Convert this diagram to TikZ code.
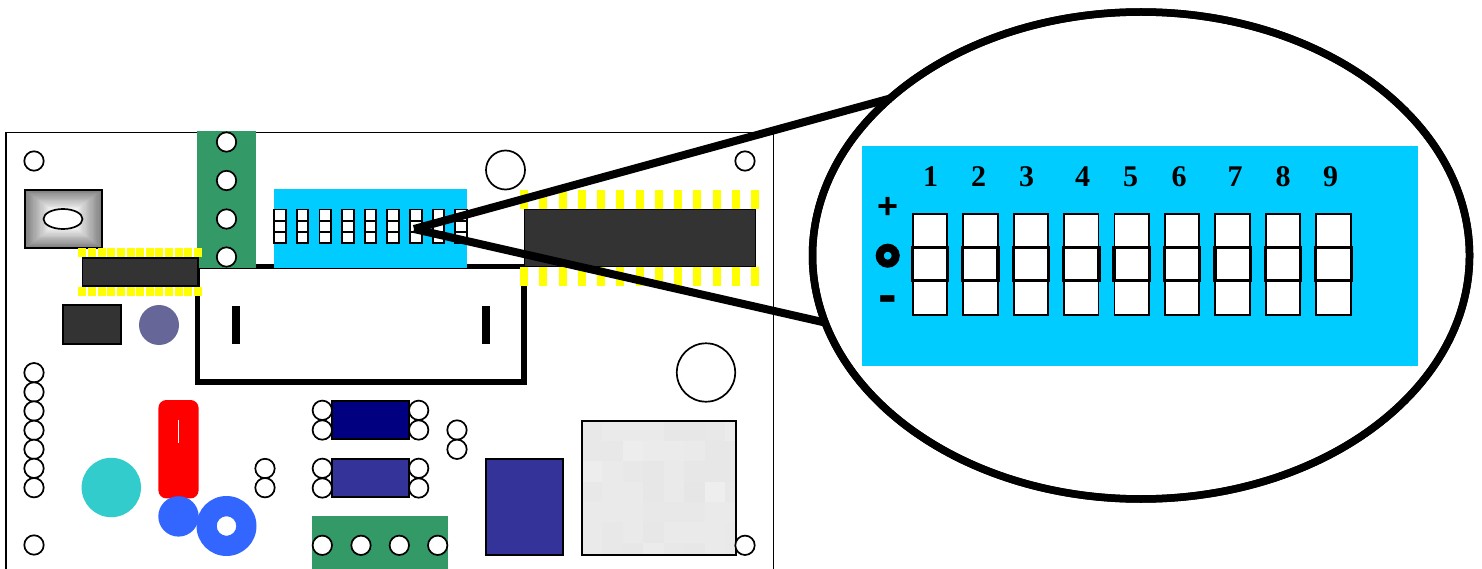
\documentclass[tikz,border=0pt]{standalone}
\usepackage{fontspec}
\setmainfont{Liberation Serif}
\newfontfamily\sansfam{Liberation Sans}
\usetikzlibrary{shapes.geometric}
\definecolor{ic}{HTML}{333333}
\definecolor{pad}{HTML}{FFFF00}
\definecolor{sky}{HTML}{00CCFF}
\definecolor{term}{HTML}{339966}
\definecolor{navy2}{HTML}{000080}
\definecolor{indigo2}{HTML}{333399}
\definecolor{slate}{HTML}{666699}
\definecolor{teal2}{HTML}{33CCCC}
\definecolor{blue2}{HTML}{3366FF}
\tikzset{
  hole/.style={draw=black,fill=white,line width=1.7pt},
  part/.style={draw=black,line width=1.9pt},
  num/.style={font=\fontsize{30}{30}\selectfont\bfseries,inner sep=0pt,anchor=center},
  swcell/.style={draw=black,fill=white,line width=1.9pt},
  zoomline/.style={line width=8pt,draw=black,shorten >=-1pt},
  lens/.style={ellipse,draw=black,line width=7.5pt,outer sep=0pt,minimum width=657pt,minimum height=487pt,inner sep=0pt}
}
\begin{document}
\begin{tikzpicture}[x=1pt,y=-1pt]
\useasboundingbox (0,0) rectangle (1482,569);
\clip (0,0) rectangle (1482,569);
\fill[white] (0,0) rectangle (1482,569);
% board
\draw[line width=1.9pt,fill=white] (5.8,132.5) rectangle (773.5,600);
% corner and loose holes
\foreach \x/\y/\r in {34/161/9.7, 745/161/9.7, 505.5/170/19.5, 706/372.5/29.2, 34/545/9.7,
  34/372.7/9.7, 34/392/9.7, 34/411/9.7, 34/430.3/9.7, 34/449.3/9.7, 34/468.3/9.7, 34/487.7/9.7,
  265/468.5/9.7, 265/487.7/9.7, 457/430/9.7, 457/449.3/9.7}
  \path[hole] (\x,\y) circle[radius=\r];
% big white box
\draw[line width=5.5pt,fill=white] (197.7,266.7) rectangle (523.8,382);
\fill[black] (232.3,305.5) rectangle (240,343.5);
\fill[black] (482,305.5) rectangle (489.7,343.5);
% vertical terminal
\fill[term] (197,131) rectangle (256,268.3);
\foreach \y in {142,180.5,219,257} \path[hole] (226.5,\y) circle[radius=9.7];
% toggle with rectangular gradient
\foreach \i in {0,...,24}{
  \pgfmathsetmacro{\t}{\i/24}
  \pgfmathsetmacro{\c}{50*(1-\t)}
  \fill[black!\c!white] (25+28*\t,190+21*\t) rectangle (102-28*\t,248-21*\t);
}
\draw[part] (25,190) rectangle (102,248);
\path[hole] (63,219) ellipse[x radius=19.5,y radius=10];
% small chip
\draw[line width=1.5pt,fill=ic] (82.3,257.8) rectangle (198,286);
\foreach \k in {0,...,12}{
  \fill[pad] ({78.4+9.62*\k},247.8) rectangle ++(8,9.5);
  \fill[pad] ({78.4+9.62*\k},286.5) rectangle ++(8,9.6);
}
\draw[part,fill=ic] (63,305) rectangle (121,344);
\fill[slate] (159,325) circle[radius=20];
% DIP switch on the board
\fill[sky] (273.5,189.3) rectangle (467.3,267.8);
\foreach \k in {0,...,8}{
  \pgfmathsetmacro{\xa}{274.2+22.63*\k}
  \draw[swcell] (\xa,209.5) rectangle ++(11.6,11.2);
  \draw[swcell] (\xa,220.7) rectangle ++(11.6,11.2);
  \draw[swcell] (\xa,231.9) rectangle ++(11.6,11.2);
}
% big chip
\draw[line width=1pt,fill=ic] (524,209.3) rectangle (755,266.7);
\foreach \k in {0,...,12}{
  \fill[pad] ({520+19.25*\k},190) rectangle ++(8,19);
  \fill[pad] ({520+19.25*\k},267) rectangle ++(8,18.7);
}
% red part, capacitors
\fill[teal2] (111.3,487.5) circle[radius=29.7];
\fill[red,rounded corners=8pt] (158.4,400) rectangle (198.6,498.4);
\draw[white,line width=1.3pt] (178.5,419.5) -- (178.5,443.3);
\fill[blue2] (178.5,516.4) circle[radius=20.2];
\fill[blue2,even odd rule] (226.5,526) circle[radius=30] (226.5,526) circle[radius=9.8];
% resistors with holes
\foreach \y in {410.3,430,468.3,488}{
  \path[hole] (322.3,\y) circle[radius=9.7];
  \path[hole] (418.7,\y) circle[radius=9.7];
}
\draw[part,fill=navy2] (331.7,400.9) rectangle (409.3,439.3);
\draw[part,fill=indigo2] (331.7,459.2) rectangle (409.3,497.4);
% bottom terminal
\fill[term] (312,515.7) rectangle (448.3,600);
\foreach \x in {322.3,361,399.3,437.7} \path[hole] (\x,545.3) circle[radius=9.7];
% relay
\draw[line width=2pt,fill=indigo2] (485.9,459.2) rectangle (562.7,554.6);
% mosaic block
\begin{scope}
\clip (581.7,420.7) rectangle (735.7,555);
\foreach \rowvals [count=\j from 0] in {
  {232,236,236,236,231,231,232,238,234},
  {232,232,240,238,238,236,231,231,234},
  {240,236,232,231,235,231,231,231,238},
  {232,235,236,231,236,229,242,232,234},
  {235,235,235,233,233,233,235,235,234},
  {235,232,235,231,235,235,235,234,234},
  {235,232,231,238,232,231,235,234,234}}{
  \foreach \v [count=\i from 0] in \rowvals{
    \pgfmathtruncatemacro{\w}{round(233+0.6*(\v-234))}
    \fill[fill={rgb,255:red,\w;green,\w;blue,\w}] ({581.7+20.5*\i},{420.7+20.33*\j}) rectangle ++(20.8,20.6);
  }
}
\end{scope}
\draw[line width=1.9pt] (581.7,420.7) rectangle (735.7,555);
\path[hole] (745,545.3) circle[radius=9.7];
% zoom callout
\coordinate (tip) at (414,229);
\node[lens,fill=white] (zoomlens) at (1141,255.5) {};
\draw[zoomline] (tip) -- (zoomlens.148.6);
\draw[zoomline] (tip) -- (zoomlens.192.3);
\node[lens] (zoomrim) at (1141,255.5) {};
\fill[sky] (861.7,146) rectangle (1418,366);
\foreach \k in {0,...,8}{
  \pgfmathsetmacro{\xa}{912.7+50.45*\k}
  \draw[swcell] (\xa,214) rectangle ++(34.4,100.8);
  \draw[black,line width=3.2pt,fill=white] (\xa-0.5,247.5) rectangle ++(35.4,33);
}
\foreach \n/\x in {1/930.5,2/978.5,3/1026.5,4/1082.5,5/1130.5,6/1179,7/1235,8/1283,9/1330.5}
  \node[num] (lab\n) at (\x,177) {\n};
\node[font=\sansfam\fontsize{36}{36}\selectfont\bfseries,inner sep=0pt] (plus) at (887.7,207.5) {+};
\draw[black,line width=8pt] (887.7,255.7) circle[radius=8];
\node[font=\sansfam\fontsize{56}{56}\selectfont\bfseries,inner sep=0pt] (minus) at (888,305) {-};
\end{tikzpicture}
\end{document}
